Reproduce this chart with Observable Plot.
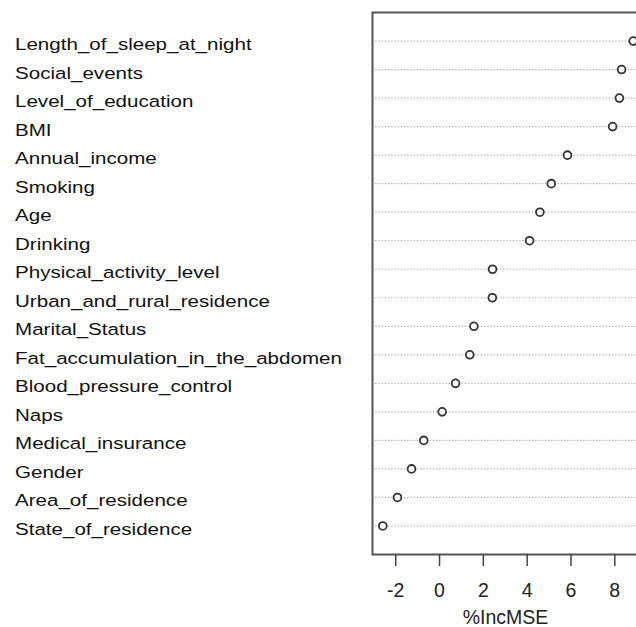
<!DOCTYPE html>
<html>
<head>
<meta charset="utf-8">
<script src="https://cdn.jsdelivr.net/npm/d3@7"></script>
<script src="https://cdn.jsdelivr.net/npm/@observablehq/plot@0.6"></script>
<style>
  html, body { margin: 0; padding: 0; background: #fff; overflow: hidden; }
  #chart { width: 636px; height: 627px; overflow: hidden; }
  #chart svg { max-width: none !important; }
</style>
</head>
<body>
<div id="chart"></div>
<script>
const variables = [
  "Length_of_sleep_at_night",
  "Social_events",
  "Level_of_education",
  "BMI",
  "Annual_income",
  "Smoking",
  "Age",
  "Drinking",
  "Physical_activity_level",
  "Urban_and_rural_residence",
  "Marital_Status",
  "Fat_accumulation_in_the_abdomen",
  "Blood_pressure_control",
  "Naps",
  "Medical_insurance",
  "Gender",
  "Area_of_residence",
  "State_of_residence"
];
const incMSE = [8.84, 8.31, 8.21, 7.90, 5.84, 5.10, 4.58, 4.11, 2.42, 2.41, 1.57, 1.38, 0.73, 0.12, -0.72, -1.28, -1.92, -2.59];
const xTicks = [-2, 0, 2, 4, 6, 8];
const xLabel = "%IncMSE";

const data = variables.map((v, i) => ({variable: v, value: incMSE[i]}));

const plot = Plot.plot({
  width: 660,
  height: 627,
  marginLeft: 372,
  marginRight: 10,
  marginTop: 12,
  marginBottom: 73,
  style: {fontFamily: "'Liberation Sans', Arial, sans-serif", color: "#333", background: "#fff", maxWidth: "none"},
  x: {domain: [-3.06, 9.63]},
  y: {type: "point", domain: variables, padding: 1, round: false},
  marks: [
    Plot.ruleY(data, {y: "variable", stroke: "#a8a8a8", strokeWidth: 1.2, strokeDasharray: "1.2,2"}),
    Plot.frame({stroke: "#555", strokeWidth: 2}),
    Plot.dot(data, {x: "value", y: "variable", r: 3.9, stroke: "#333", strokeWidth: 1.8, fill: "#fff"}),
    Plot.axisY({anchor: "left", tickSize: 0, tickPadding: 0, textAnchor: "start", dx: 14.5 - 372, dy: 3.5, fontSize: 17, fill: "#111", label: null}),
    Plot.axisX({anchor: "bottom", ticks: xTicks, tickFormat: d => String(d), tickSize: 12, tickPadding: 16.5, strokeWidth: 1.5, stroke: "#444", fontSize: 19.5, fill: "#222", label: xLabel, labelAnchor: "center", labelArrow: "none", labelOffset: 69, dx: 0})
  ]
});

document.getElementById("chart").appendChild(plot);
plot.style.maxWidth = "none";
plot.setAttribute("width", 660);
plot.setAttribute("height", 627);

// shift axis title slightly left (R centres it on its own plot region)
const lab = plot.querySelector('g[aria-label="x-axis label"]');
if (lab) {
  const tr = lab.getAttribute("transform") || "";
  lab.setAttribute("transform", tr + " translate(-6,0)");
}

// horizontal stretch of the row labels, as in the reference
plot.querySelectorAll('g[aria-label="y-axis tick label"] text').forEach(t => {
  const tr = t.getAttribute("transform");
  if (tr) {
    t.setAttribute("transform", tr + " scale(1.21,1)");
  } else {
    const x = +t.getAttribute("x") || 0, y = +t.getAttribute("y") || 0;
    t.removeAttribute("x"); t.removeAttribute("y");
    t.setAttribute("transform", `translate(${x},${y}) scale(1.21,1)`);
  }
});
</script>
</body>
</html>
